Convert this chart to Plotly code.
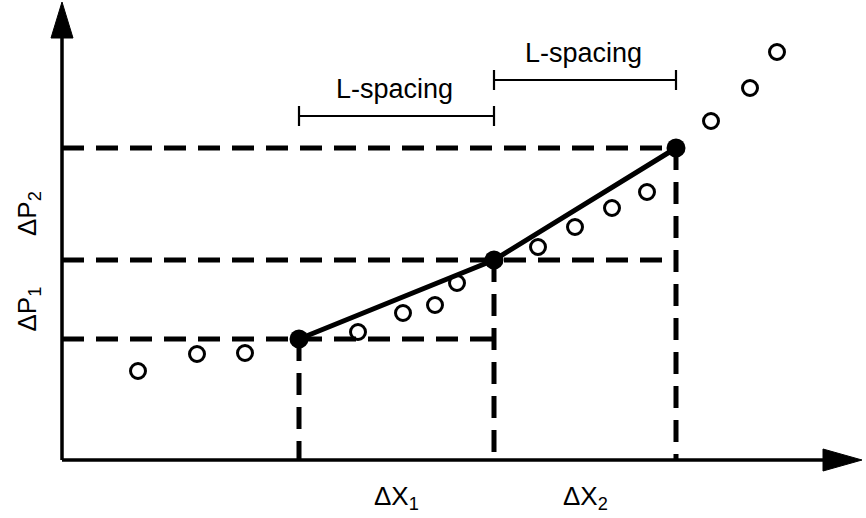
import plotly.graph_objects as go

# Observed data (open circles): x = distance, y = pressure difference (arbitrary units)
obs_x = [76, 135, 183, 296, 341, 373, 395, 476, 513, 550, 585, 649, 688, 715]
obs_y = [89, 106, 107, 128, 147, 155, 177, 213, 233, 252, 268, 339, 372, 408]

# Selected points at L-spacing (filled circles)
sel_x = [237, 432, 614]
sel_y = [121, 200, 312]

# Axis extents
x_axis_end = 800
y_axis_end = 458
mid_dash_end = 603

# Bracket levels and labels
bracket_y = [344, 380]
bracket_labels = ["L-spacing", "L-spacing"]
dp_labels = ["ΔP<sub>1</sub>", "ΔP<sub>2</sub>"]
dx_labels = ["ΔX<sub>1</sub>", "ΔX<sub>2</sub>"]

FONT = "Liberation Sans, Arial, Helvetica, sans-serif"
BLACK = "#000000"
DASH = "22px,12px"

fig = go.Figure()

# Horizontal dashed lines
h_ends = [sel_x[1], mid_dash_end, sel_x[2]]
for yv, xe in zip(sel_y, h_ends):
    fig.add_trace(go.Scatter(x=[0, xe], y=[yv, yv], mode="lines",
                             line=dict(color=BLACK, width=5, dash=DASH),
                             hoverinfo="skip", showlegend=False))
# Vertical dashed lines
for xv, yv in zip(sel_x, sel_y):
    fig.add_trace(go.Scatter(x=[xv, xv], y=[yv, 0], mode="lines",
                             line=dict(color=BLACK, width=5, dash=DASH),
                             hoverinfo="skip", showlegend=False))

# Axes lines with arrowheads
head_len_y, head_half_y = 36, 11
head_len_x, head_half_x = 39, 11
fig.add_trace(go.Scatter(x=[0, 0], y=[0, y_axis_end - head_len_y + 2], mode="lines",
                         line=dict(color=BLACK, width=3.5), hoverinfo="skip", showlegend=False))
fig.add_trace(go.Scatter(x=[0, x_axis_end - head_len_x + 2], y=[0, 0], mode="lines",
                         line=dict(color=BLACK, width=3.5), hoverinfo="skip", showlegend=False))
fig.add_trace(go.Scatter(x=[-head_half_y, 0, head_half_y, -head_half_y],
                         y=[y_axis_end - head_len_y, y_axis_end, y_axis_end - head_len_y, y_axis_end - head_len_y],
                         mode="lines", fill="toself", fillcolor=BLACK,
                         line=dict(color=BLACK, width=1), hoverinfo="skip", showlegend=False))
fig.add_trace(go.Scatter(x=[x_axis_end - head_len_x, x_axis_end, x_axis_end - head_len_x, x_axis_end - head_len_x],
                         y=[-head_half_x, 0, head_half_x, -head_half_x],
                         mode="lines", fill="toself", fillcolor=BLACK,
                         line=dict(color=BLACK, width=1), hoverinfo="skip", showlegend=False))

# Brackets (L-spacing)
tick_half = 10
for i, by in enumerate(bracket_y):
    x0, x1 = sel_x[i], sel_x[i + 1]
    fig.add_trace(go.Scatter(x=[x0, x1], y=[by, by], mode="lines",
                             line=dict(color=BLACK, width=2.2), hoverinfo="skip", showlegend=False))
    for xe in (x0, x1):
        fig.add_trace(go.Scatter(x=[xe, xe], y=[by - tick_half, by + tick_half], mode="lines",
                                 line=dict(color=BLACK, width=2.2), hoverinfo="skip", showlegend=False))
    fig.add_annotation(x=(x0 + x1) / 2 - 2, y=by + 27, text=bracket_labels[i], showarrow=False,
                       font=dict(family=FONT, size=27, color=BLACK),
                       xanchor="center", yanchor="middle")

# Solid line through selected points
fig.add_trace(go.Scatter(x=sel_x, y=sel_y, mode="lines",
                         line=dict(color=BLACK, width=5), hoverinfo="skip", showlegend=False))

# Open circles
fig.add_trace(go.Scatter(x=obs_x, y=obs_y, mode="markers",
                         marker=dict(symbol="circle-open", size=15, color=BLACK,
                                     line=dict(width=3, color=BLACK)),
                         showlegend=False))
# Filled circles
fig.add_trace(go.Scatter(x=sel_x, y=sel_y, mode="markers",
                         marker=dict(symbol="circle", size=19, color=BLACK),
                         showlegend=False))

# ΔP labels
for i in range(2):
    fig.add_annotation(x=-34, y=(sel_y[i] + sel_y[i + 1]) / 2 - 10, text=dp_labels[i],
                       textangle=-90, showarrow=False,
                       font=dict(family=FONT, size=26, color=BLACK),
                       xanchor="center", yanchor="middle")
# ΔX labels
for i in range(2):
    fig.add_annotation(x=(sel_x[i] + sel_x[i + 1]) / 2, y=-37, text=dx_labels[i],
                       showarrow=False, font=dict(family=FONT, size=26, color=BLACK),
                       xanchor="center", yanchor="middle")

fig.update_layout(
    width=866, height=518, autosize=False,
    margin=dict(l=0, r=0, t=0, b=0, pad=0),
    paper_bgcolor="white", plot_bgcolor="white",
    xaxis=dict(range=[-62, 804], visible=False, fixedrange=True),
    yaxis=dict(range=[-58, 460], visible=False, fixedrange=True),
    showlegend=False,
)

fig.write_html("out.html")
